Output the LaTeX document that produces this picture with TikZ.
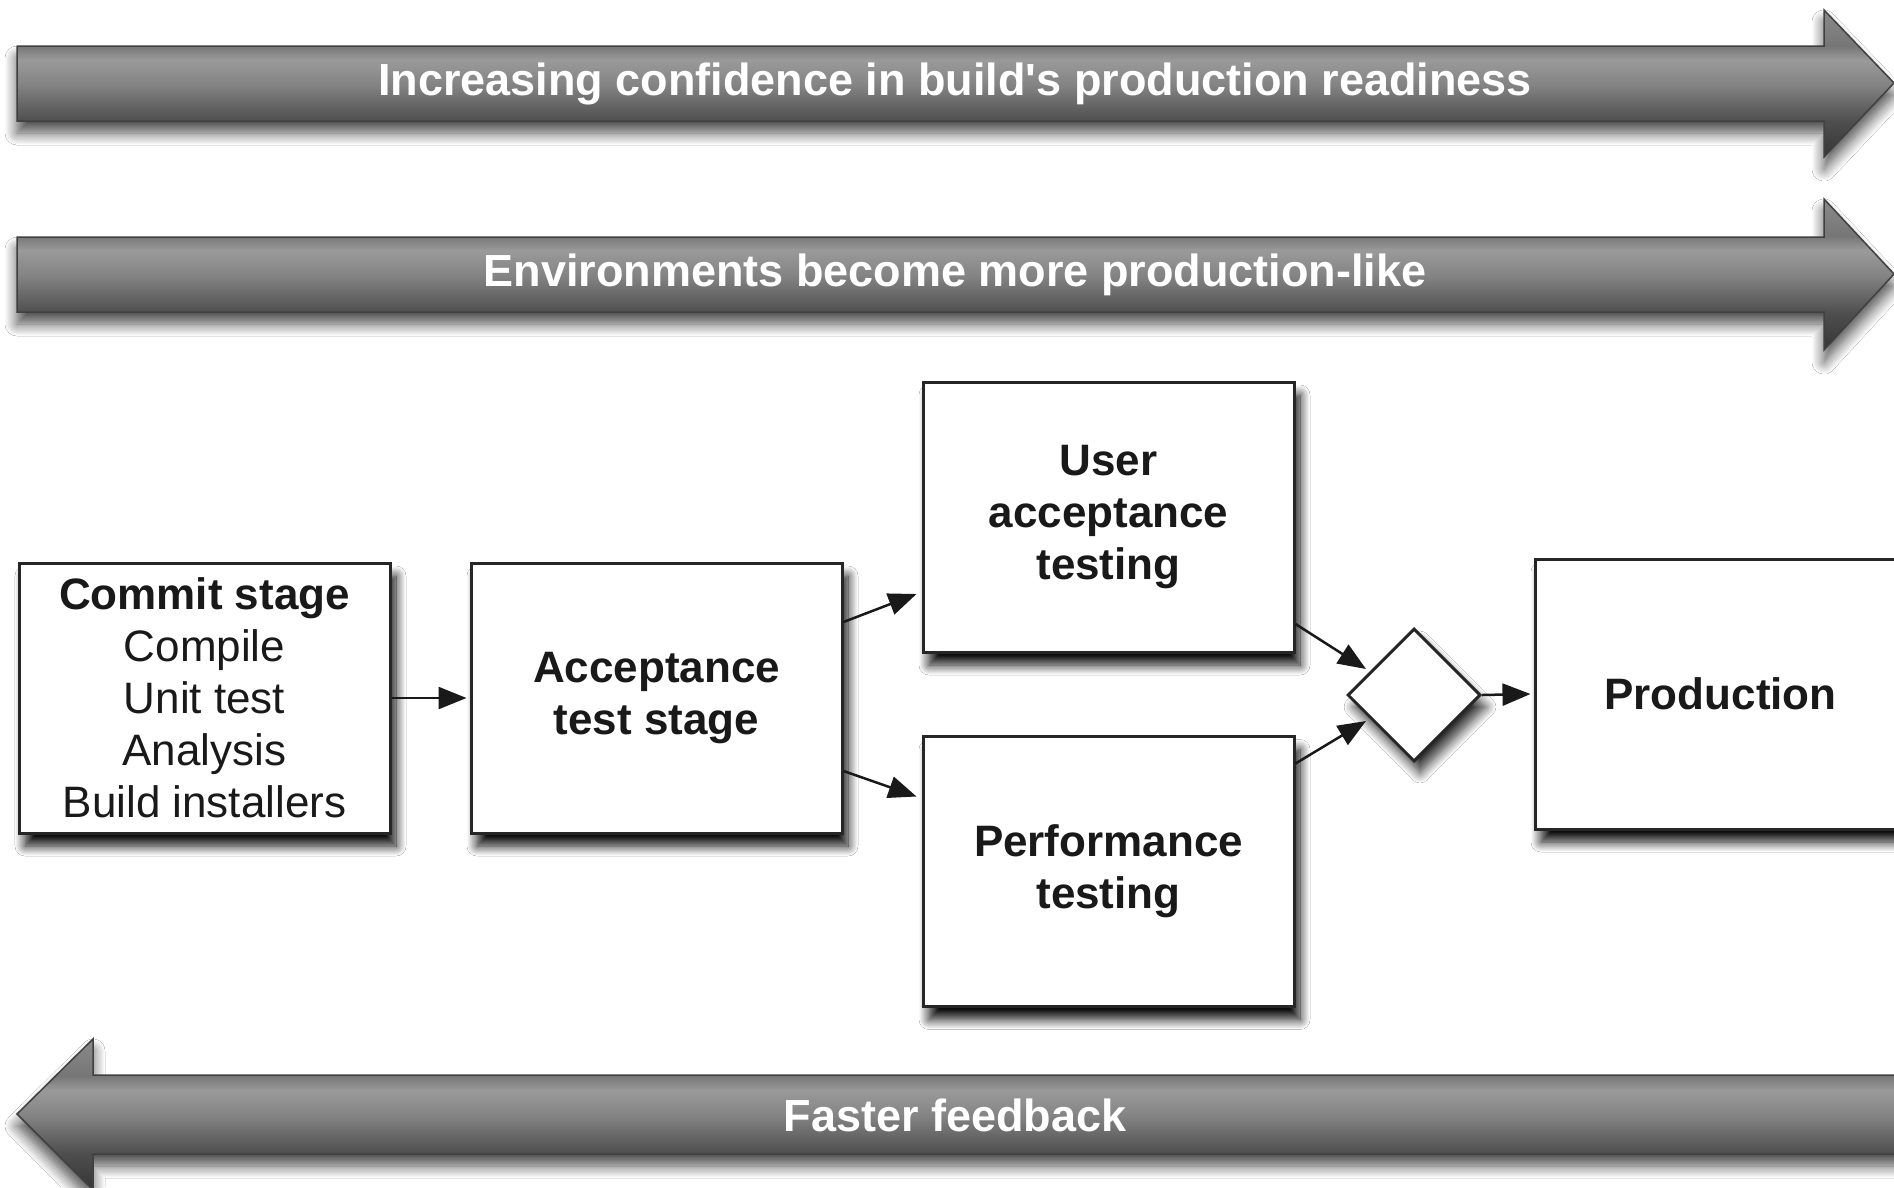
\documentclass[tikz,border=0pt]{standalone}
\usepackage{fontspec}
\setmainfont{Liberation Sans}
\newfontfamily\bannerfont{Liberation Sans}
\usetikzlibrary{shapes.geometric,arrows.meta,shadows.blur}
\definecolor{gA}{HTML}{353535}
\definecolor{gB}{HTML}{4E4E4E}
\definecolor{gC}{HTML}{5E5E5E}
\definecolor{gD}{HTML}{838383}
\definecolor{gE}{HTML}{9A9A9A}
\definecolor{gF}{HTML}{767676}
\definecolor{gG}{HTML}{8A8A8A}
\pgfdeclareverticalshading{banner}{100bp}{color(0bp)=(gA); color(25bp)=(gA); color(37bp)=(gB); color(41bp)=(gC); color(49.5bp)=(gD); color(58bp)=(gE); color(62.8bp)=(gF); color(75bp)=(gG); color(100bp)=(gG)}
\tikzset{
  bannerarrow/.style={shading=banner, draw=black!75, line width=1.5pt, line join=miter,
    blur shadow={shadow xshift=0pt, shadow yshift=-12pt, shadow blur radius=12pt, shadow blur steps=12, shadow opacity=70}},
  bannertext/.style={text=white, font=\bannerfont\fontsize{45}{54}\selectfont\bfseries, inner sep=0pt},
  stage/.style={draw=black!85, line width=3pt, fill=white, minimum width=371pt, minimum height=270pt,
    align=center, inner sep=0pt, font=\fontsize{44}{52}\selectfont, text=black!90,
    blur shadow={shadow xshift=6pt, shadow yshift=-13pt, shadow blur radius=10pt, shadow blur steps=12, shadow opacity=95}},
  gate/.style={diamond, draw=black!85, line width=3pt, fill=white, minimum width=133pt, minimum height=133pt,
    inner sep=0pt, blur shadow={shadow xshift=6pt, shadow yshift=-12pt, shadow blur radius=10pt, shadow blur steps=12, shadow opacity=80}},
  flow/.style={line width=2.5pt, draw=black!90, -{Triangle[length=28pt,width=22pt]}}
}
\begin{document}
\begin{tikzpicture}[x=1pt,y=-1pt]
\fill[white] (0,0) rectangle (1894,1187);
\useasboundingbox (0,0) rectangle (1894,1187);

% banners
\path[bannerarrow] (17,46) -- (1824,46) -- (1824,10) -- (1894,83) -- (1824,157) -- (1824,121) -- (17,121) -- cycle;
\node[bannertext] (conf) at (955,84) {Increasing confidence in build's production readiness};

\path[bannerarrow] (17,237) -- (1824,237) -- (1824,199) -- (1894,274) -- (1824,350) -- (1824,312) -- (17,312) -- cycle;
\node[bannertext] (env) at (955,275) {Environments become more production-like};

\path[bannerarrow] (1910,1075) -- (93,1075) -- (93,1039) -- (17,1114) -- (93,1190) -- (93,1154) -- (1910,1154) -- cycle;
\node[bannertext] (fast) at (955,1115) {Faster feedback};

% stages
\node[stage] (commit) at (204.5,698) {\textbf{Commit stage}\\Compile\\Unit test\\Analysis\\Build installers};
\node[stage] (acc) at (656.5,698) {\textbf{Acceptance}\\\textbf{test stage}};
\node[stage] (uat) at (1108.5,517) {\textbf{User}\\\textbf{acceptance}\\\textbf{testing}};
\node[stage] (perf) at (1108.5,871.5) {\textbf{Performance}\\\textbf{testing}};
\node[gate] (gate) at (1414,695) {};
\node[stage] (prod) at (1720.5,694) {\textbf{Production}};

% connectors
\draw[flow] (commit.east) -- ([xshift=-3pt]acc.west);
\draw[flow] ([yshift=76pt]acc.east) -- ([xshift=-5pt,yshift=-77pt]uat.west);
\draw[flow] ([yshift=-73pt]acc.east) -- ([xshift=-5pt,yshift=75pt]perf.west);
\draw[flow] ([yshift=-107pt]uat.east) -- ([xshift=-14pt,yshift=-8pt]gate.north west);
\draw[flow] ([yshift=108pt]perf.east) -- ([xshift=-14pt,yshift=8pt]gate.south west);
\draw[flow] (gate.east) -- ([xshift=-3pt]prod.west);
\end{tikzpicture}
\end{document}
